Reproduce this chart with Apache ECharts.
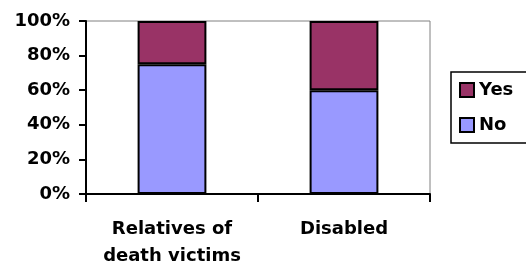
<!DOCTYPE html>
<html>
<head>
<meta charset="utf-8">
<script src="https://cdn.jsdelivr.net/npm/echarts@6/dist/echarts.min.js"></script>
<style>
  html, body { margin: 0; padding: 0; background: #fff; }
  #chart { width: 526px; height: 271px; }
</style>
</head>
<body>
<div id="chart"></div>
<script>
const categories = ["Relatives of\ndeath victims", "Disabled"];
const noValues = [75, 60];
const yesValues = [25, 40];

const font = "DejaVu Sans";
const chart = echarts.init(document.getElementById("chart"));

chart.setOption({
  animation: false,
  grid: {
    left: 86,
    top: 21,
    right: 96,
    bottom: 77,
    show: true,
    borderColor: "#808080",
    borderWidth: 1,
  },
  legend: {
    data: ["Yes", "No"],
    orient: "vertical",
    left: 451,
    top: 72,
    padding: [9, 30, 9, 8],
    borderColor: "#000",
    borderWidth: 1.5,
    itemWidth: 14,
    itemHeight: 14,
    itemGap: 17,
    itemTextGap: 7,
    icon: "rect",
    textStyle: {
      fontFamily: font,
      fontWeight: "bold",
      fontSize: 18,
      lineHeight: 18,
      color: "#000",
    },
  },
  xAxis: {
    type: "category",
    data: categories,
    axisLine: { lineStyle: { color: "#000", width: 2 } },
    axisTick: { show: true, interval: 0, length: 8, lineStyle: { color: "#000", width: 2 } },
    axisLabel: {
      interval: 0,
      fontFamily: font,
      fontWeight: "bold",
      fontSize: 18,
      lineHeight: 27,
      color: "#000",
      margin: 22,
    },
  },
  yAxis: {
    type: "value",
    min: 0,
    max: 100,
    interval: 20,
    splitLine: { show: false },
    axisLine: { show: true, lineStyle: { color: "#000", width: 2 } },
    axisTick: { show: true, length: 7, lineStyle: { color: "#000", width: 2 } },
    axisLabel: {
      formatter: "{value}%",
      fontFamily: font,
      fontWeight: "bold",
      fontSize: 18,
      color: "#000",
      margin: 16,
    },
  },
  series: [
    {
      name: "No",
      type: "bar",
      stack: "total",
      data: noValues,
      barCategoryGap: "60%",
      itemStyle: { color: "#9999FF", borderColor: "#000", borderWidth: 2 },
    },
    {
      name: "Yes",
      type: "bar",
      stack: "total",
      data: yesValues,
      barCategoryGap: "60%",
      itemStyle: { color: "#993366", borderColor: "#000", borderWidth: 2 },
    },
  ],
});
</script>
</body>
</html>
